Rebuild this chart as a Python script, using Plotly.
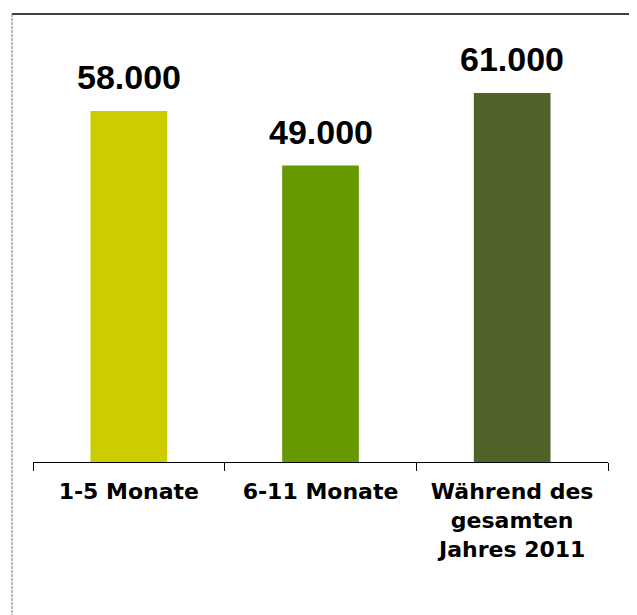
import plotly.graph_objects as go

categories = ["1-5 Monate", "6-11 Monate", "Während des<br>gesamten<br>Jahres 2011"]
values = [58000, 49000, 61000]
value_labels = ["58.000", "49.000", "61.000"]
colors = ["#CCCC00", "#669900", "#4F6228"]

W, H = 637, 615
OFF = 8  # page offset
L, R, T, B = 33 - OFF, 29 + OFF, 14 - OFF, 153 + OFF

fig = go.Figure()
fig.add_trace(go.Bar(
    x=categories, y=values, marker=dict(color=colors, line=dict(width=0)),
    width=0.4, hoverinfo="skip",
))

for c, v, t in zip(categories, values, value_labels):
    fig.add_annotation(x=c, y=v, text=t, showarrow=False, yanchor="bottom", yshift=13,
                       font=dict(family="Liberation Sans, Arial", size=34, color="black",
                                 weight="bold"))

pw = W - L - R
ph = H - T - B
def px2x(px):
    return (px - OFF - L) / pw
def py2y(py):
    return (H - B - (py - OFF)) / ph

fig.add_shape(type="line", xref="paper", yref="paper",
              x0=px2x(12), x1=px2x(W + OFF), y0=py2y(14), y1=py2y(14),
              line=dict(color="black", width=1.5))
fig.add_shape(type="line", xref="paper", yref="paper",
              x0=px2x(12), x1=px2x(12), y0=py2y(14), y1=py2y(H + OFF),
              line=dict(color="#707070", width=1, dash="3px,1px"))

fig.update_layout(
    width=W, height=H,
    margin=dict(l=L, r=R, t=T, b=B),
    paper_bgcolor="white", plot_bgcolor="white",
    showlegend=False,
    xaxis=dict(showline=True, linecolor="black", linewidth=1,
               ticks="outside", tickson="boundaries", ticklen=8, tickcolor="black",
               ticklabelstandoff=10,
               tickfont=dict(family="DejaVu Sans", size=22, color="black",
                             weight="bold"),
               showgrid=False, zeroline=False, fixedrange=True, tickangle=0),
    yaxis=dict(visible=False, range=[0, 74050], showgrid=False, zeroline=False),
)
fig.write_html("out.html")
